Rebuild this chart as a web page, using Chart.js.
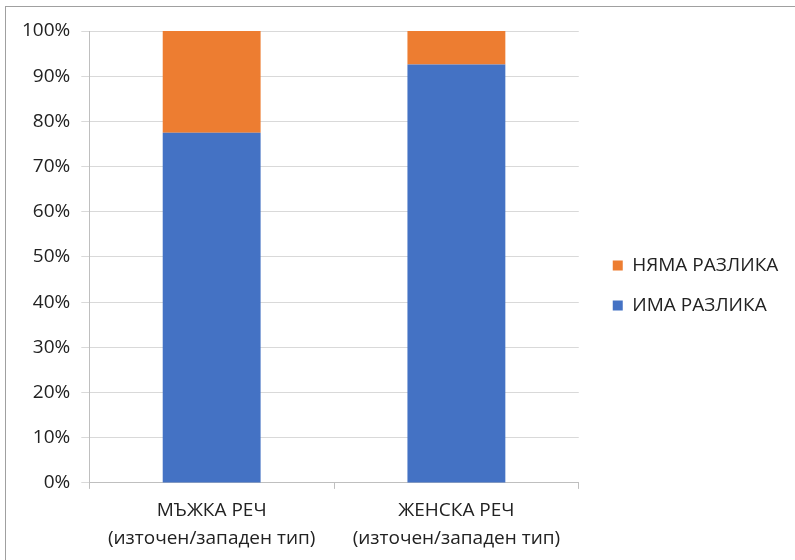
<!DOCTYPE html>
<html><head><meta charset="utf-8">
<script src="https://cdn.jsdelivr.net/npm/chart.js@4"></script>
<style>
html,body{margin:0;padding:0;background:#fff;}
#wrap{position:relative;width:795px;height:560px;}
#frame{position:absolute;left:5px;top:6px;right:0;bottom:0;border-left:1px solid #a0a0a0;border-top:1px solid #a0a0a0;pointer-events:none;}
</style></head>
<body>
<div id="wrap"><canvas id="c" width="795" height="560"></canvas><div id="frame"></div></div>
<script>
const categories = [["МЪЖКА РЕЧ","(източен/западен тип)"],["ЖЕНСКА РЕЧ","(източен/западен тип)"]];
const imaRazlika = [77.5, 92.6];
const nyamaRazlika = [22.5, 7.4];
const seriesNames = ["ИМА РАЗЛИКА","НЯМА РАЗЛИКА"];
const FONT = "Open Sans";
const shiftLegend = {
  id: 'shiftLegend',
  afterLayout(chart) { const l = chart.legend; if (l) { l.left += 13; l.right += 13; l.top -= 10; l.bottom -= 10; } }
};
new Chart(document.getElementById('c'), {
  type: 'bar',
  data: {
    labels: categories,
    datasets: [
      {label: seriesNames[0], data: imaRazlika, backgroundColor: '#4472C4', barPercentage: 0.4, categoryPercentage: 1},
      {label: seriesNames[1], data: nyamaRazlika, backgroundColor: '#ED7D31', barPercentage: 0.4, categoryPercentage: 1}
    ]
  },
  plugins: [shiftLegend],
  options: {
    responsive: false, animation: false,
    layout: {padding: {left: 11, top: 31, right: 27, bottom: 0}},
    plugins: {
      tooltip: {enabled: false},
      legend: {
        position: 'right', reverse: true,
        labels: {boxWidth: 10, boxHeight: 10, padding: 21, color: '#222', font: {family: FONT, size: 19}}
      }
    },
    scales: {
      x: {
        stacked: true,
        border: {color: '#bfbfbf'},
        grid: {drawOnChartArea: false, drawTicks: true, tickLength: 6, color: '#bfbfbf', offset: true},
        ticks: {color: '#222', font: {family: FONT, size: 19, lineHeight: 1.45}, padding: 8, maxRotation: 0}
      },
      y: {
        stacked: true, min: 0, max: 100,
        border: {color: '#bfbfbf'},
        grid: {color: '#d9d9d9', tickLength: 8},
        ticks: {stepSize: 10, color: '#222', font: {family: FONT, size: 19}, padding: 11, callback: v => v + '%'}
      }
    }
  }
});
</script>
</body></html>
